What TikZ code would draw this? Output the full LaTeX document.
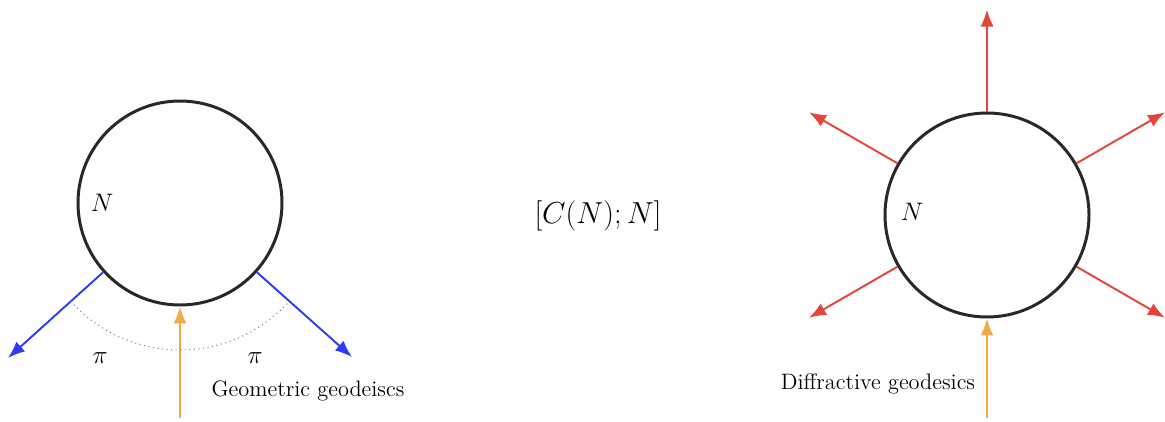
\documentclass[tikz,border=0pt]{standalone}
\usepackage{amsmath}
\usepackage{xcolor}
\usepackage{tikz}
\usetikzlibrary{positioning,arrows.meta}
\definecolor{rimgray}{RGB}{40,40,40}
\definecolor{geoblue}{RGB}{45,60,240}
\definecolor{diffred}{RGB}{228,68,58}
\definecolor{inorange}{RGB}{240,170,72}

\begin{document}
\begin{tikzpicture}[
  obst/.style={circle, draw=rimgray, line width=1.7pt, minimum size=4.08cm,
    inner sep=0pt},
  ray/.style={-{Latex[length=3.4mm,width=2.6mm]}, line width=1.1pt},
  lbl/.style={font=\fontsize{12.7}{15}\selectfont},
]
  \useasboundingbox (0,0) rectangle (23.3,8.42);

  % Left obstacle: geometric geodesics
  \node[obst] (nl) at (3.6,4.36) {};
  \node[font=\Large] (nlab) at (2.04,4.36) {$N$};
  \coordinate (inl) at (3.6,0.06);
  \coordinate (bl) at (0.16,1.26);
  \coordinate (br) at (7.04,1.28);
  \draw[ray, inorange] (inl) -- (nl.south);
  \draw[ray, geoblue] (nl.222) -- (bl);
  \draw[ray, geoblue] (nl.318) -- (br);
  \draw[dotted, gray, line width=0.6pt] (nl.center) ++(222:2.94) arc[start angle=222, end angle=318, radius=2.94];
  \node[font=\Large] (pil) at (2.0,1.26) {$\pi$};
  \node[font=\Large] (pir) at (5.1,1.26) {$\pi$};
  \node[lbl] (geom) at (6.16,0.6) {Geometric geodeiscs};

  % Middle
  \node[font=\fontsize{16.3}{19}\selectfont] (pair) at (11.96,4.1) {$[C(N);N]$};

  % Right obstacle: diffractive geodesics
  \node[obst] (nr) at (19.74,4.12) {};
  \node[font=\Large] (nrlab) at (18.24,4.18) {$N$};
  \coordinate (inr) at (19.74,0.06);
  \draw[ray, inorange] (inr) -- (nr.south);
  \foreach \a in {90,150,30,210,330} {
    \draw[ray, diffred] (nr.\a) -- ++(\a:2.04);
  }
  \node[lbl] (diff) at (17.56,0.74) {Diffractive geodesics};
\end{tikzpicture}
\end{document}
